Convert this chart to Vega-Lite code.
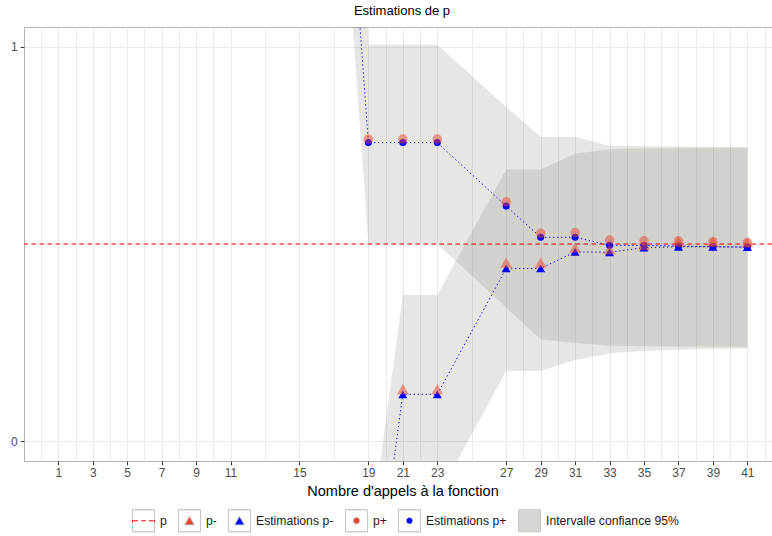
{
  "$schema": "https://vega.github.io/schema/vega-lite/v6.json",
  "width": 748,
  "height": 434,
  "autosize": {"type": "none"},
  "padding": {"left": 24, "top": 27, "right": 0, "bottom": 75},
  "background": "white",
  "title": {"text": "Estimations de p", "font": "Liberation Sans", "fontSize": 13, "fontWeight": "normal", "color": "#000000", "anchor": "middle", "dx": 4, "offset": 9},
  "datasets": {
    "pts": [
      {"x": 15, "y": 3.18, "series": "Estimations p+"},
      {"x": 19, "y": 0.757, "series": "Estimations p+"},
      {"x": 21, "y": 0.757, "series": "Estimations p+"},
      {"x": 23, "y": 0.757, "series": "Estimations p+"},
      {"x": 27, "y": 0.596, "series": "Estimations p+"},
      {"x": 29, "y": 0.517, "series": "Estimations p+"},
      {"x": 31, "y": 0.517, "series": "Estimations p+"},
      {"x": 33, "y": 0.497, "series": "Estimations p+"},
      {"x": 35, "y": 0.496, "series": "Estimations p+"},
      {"x": 37, "y": 0.495, "series": "Estimations p+"},
      {"x": 39, "y": 0.493, "series": "Estimations p+"},
      {"x": 41, "y": 0.492, "series": "Estimations p+"},
      {"x": 19, "y": 0.766, "series": "p+"},
      {"x": 21, "y": 0.766, "series": "p+"},
      {"x": 23, "y": 0.766, "series": "p+"},
      {"x": 27, "y": 0.607, "series": "p+"},
      {"x": 29, "y": 0.527, "series": "p+"},
      {"x": 31, "y": 0.529, "series": "p+"},
      {"x": 33, "y": 0.51, "series": "p+"},
      {"x": 35, "y": 0.508, "series": "p+"},
      {"x": 37, "y": 0.508, "series": "p+"},
      {"x": 39, "y": 0.506, "series": "p+"},
      {"x": 41, "y": 0.504, "series": "p+"},
      {"x": 19, "y": -0.527, "series": "Estimations p-"},
      {"x": 21, "y": 0.119, "series": "Estimations p-"},
      {"x": 23, "y": 0.119, "series": "Estimations p-"},
      {"x": 27, "y": 0.438, "series": "Estimations p-"},
      {"x": 29, "y": 0.438, "series": "Estimations p-"},
      {"x": 31, "y": 0.48, "series": "Estimations p-"},
      {"x": 33, "y": 0.479, "series": "Estimations p-"},
      {"x": 35, "y": 0.491, "series": "Estimations p-"},
      {"x": 37, "y": 0.493, "series": "Estimations p-"},
      {"x": 39, "y": 0.493, "series": "Estimations p-"},
      {"x": 41, "y": 0.492, "series": "Estimations p-"},
      {"x": 19, "y": -0.51, "series": "p-"},
      {"x": 21, "y": 0.132, "series": "p-"},
      {"x": 23, "y": 0.132, "series": "p-"},
      {"x": 27, "y": 0.453, "series": "p-"},
      {"x": 29, "y": 0.453, "series": "p-"},
      {"x": 31, "y": 0.491, "series": "p-"},
      {"x": 33, "y": 0.487, "series": "p-"},
      {"x": 35, "y": 0.497, "series": "p-"},
      {"x": 37, "y": 0.506, "series": "p-"},
      {"x": 39, "y": 0.506, "series": "p-"},
      {"x": 41, "y": 0.504, "series": "p-"}
    ],
    "rib": [
      {"x": 15, "hi": 6.0, "lo": 2.93, "band": "p+"},
      {"x": 19, "hi": 1.005, "lo": 0.5, "band": "p+"},
      {"x": 21, "hi": 1.005, "lo": 0.5, "band": "p+"},
      {"x": 23, "hi": 1.005, "lo": 0.5, "band": "p+"},
      {"x": 27, "hi": 0.848, "lo": 0.339, "band": "p+"},
      {"x": 29, "hi": 0.771, "lo": 0.258, "band": "p+"},
      {"x": 31, "hi": 0.771, "lo": 0.249, "band": "p+"},
      {"x": 33, "hi": 0.749, "lo": 0.242, "band": "p+"},
      {"x": 35, "hi": 0.748, "lo": 0.241, "band": "p+"},
      {"x": 37, "hi": 0.747, "lo": 0.24, "band": "p+"},
      {"x": 39, "hi": 0.746, "lo": 0.24, "band": "p+"},
      {"x": 41, "hi": 0.746, "lo": 0.239, "band": "p+"},
      {"x": 19, "hi": -0.275, "lo": -0.8, "band": "p-"},
      {"x": 21, "hi": 0.371, "lo": -0.3, "band": "p-"},
      {"x": 23, "hi": 0.371, "lo": -0.143, "band": "p-"},
      {"x": 27, "hi": 0.689, "lo": 0.178, "band": "p-"},
      {"x": 29, "hi": 0.689, "lo": 0.178, "band": "p-"},
      {"x": 31, "hi": 0.729, "lo": 0.206, "band": "p-"},
      {"x": 33, "hi": 0.74, "lo": 0.223, "band": "p-"},
      {"x": 35, "hi": 0.742, "lo": 0.229, "band": "p-"},
      {"x": 37, "hi": 0.743, "lo": 0.232, "band": "p-"},
      {"x": 39, "hi": 0.744, "lo": 0.234, "band": "p-"},
      {"x": 41, "hi": 0.744, "lo": 0.235, "band": "p-"}
    ],
    "ref": [{"p": 0.5}],
    "leg": [
      {"item": "p"},
      {"item": "p-"},
      {"item": "Estimations p-"},
      {"item": "p+"},
      {"item": "Estimations p+"},
      {"item": "Intervalle confiance 95%"}
    ]
  },
  "layer": [
    {
      "data": {"name": "rib"},
      "mark": {"type": "area", "clip": true, "color": "#7a766a", "fillOpacity": 0.18, "strokeWidth": 0},
      "encoding": {
        "x": {"field": "x", "type": "quantitative", "scale": {"domain": [-0.99, 42.43], "nice": false, "zero": false},
              "axis": {"orient": "bottom", "values": [0,1,2,3,4,5,6,7,8,9,10,11,13,15,17,19,20,21,22,23,25,27,28,29,30,31,32,33,34,35,36,37,38,39,40,41,42], "labelExpr": "indexof([1,3,5,7,9,11,15,19,21,23,27,29,31,33,35,37,39,41], datum.value) >= 0 ? '' + datum.value : ''", "tickOpacity": {"condition": {"test": "indexof([1,3,5,7,9,11,15,19,21,23,27,29,31,33,35,37,39,41], datum.value) < 0", "value": 0}, "value": 1}, "grid": true, "gridColor": "#ebebeb", "gridWidth": 1, "domain": false, "ticks": true, "tickColor": "#333333", "tickSize": 3.7, "tickWidth": 1, "labelFont": "Liberation Sans", "labelFontSize": 12, "labelColor": "#4d4d4d", "labelPadding": 3, "labelFlush": false, "labelOverlap": false, "title": "Nombre d'appels à la fonction", "titleFont": "Liberation Sans", "titleFontSize": 14.5, "titleFontWeight": "normal", "titleColor": "#000000", "titlePadding": 6, "titleX": 378.5}},
        "y": {"field": "hi", "type": "quantitative", "scale": {"domain": [-0.05, 1.05], "nice": false, "zero": false},
              "axis": {"orient": "left", "values": [0, 0.5, 1], "labelExpr": "datum.value == 0 ? '0' : (datum.value == 1 ? '1' : '')", "title": null, "domain": false, "ticks": true, "tickColor": "#333333", "tickSize": 3.7, "tickWidth": 1, "tickOpacity": {"condition": {"test": "datum.value == 0.5", "value": 0}, "value": 1}, "grid": true, "gridColor": "#ebebeb", "gridWidth": 1, "labelFont": "Liberation Sans", "labelFontSize": 12, "labelColor": "#4d4d4d", "labelPadding": 3}},
        "y2": {"field": "lo"},
        "detail": {"field": "band", "type": "nominal"}
      }
    },
    {
      "data": {"name": "ref"},
      "mark": {"type": "rule", "color": "#ff0000", "strokeDash": [4.5, 3.5], "strokeWidth": 1},
      "encoding": {
        "y": {"field": "p", "type": "quantitative",
              "axis": {"orient": "left", "values": [0, 0.5, 1], "labelExpr": "datum.value == 0 ? '0' : (datum.value == 1 ? '1' : '')", "title": null, "domain": false, "ticks": true, "tickColor": "#333333", "tickSize": 3.7, "tickWidth": 1, "tickOpacity": {"condition": {"test": "datum.value == 0.5", "value": 0}, "value": 1}, "grid": true, "gridColor": "#ebebeb", "gridWidth": 1, "labelFont": "Liberation Sans", "labelFontSize": 12, "labelColor": "#4d4d4d", "labelPadding": 3}}
      }
    },
    {
      "data": {"name": "pts"},
      "transform": [{"filter": "indexof(datum.series, 'Estimations') == 0"}],
      "mark": {"type": "line", "clip": true, "color": "#0000ff", "strokeWidth": 1, "strokeDash": [1.3, 2.7]},
      "encoding": {
        "x": {"field": "x", "type": "quantitative",
              "axis": {"orient": "bottom", "values": [0,1,2,3,4,5,6,7,8,9,10,11,13,15,17,19,20,21,22,23,25,27,28,29,30,31,32,33,34,35,36,37,38,39,40,41,42], "labelExpr": "indexof([1,3,5,7,9,11,15,19,21,23,27,29,31,33,35,37,39,41], datum.value) >= 0 ? '' + datum.value : ''", "tickOpacity": {"condition": {"test": "indexof([1,3,5,7,9,11,15,19,21,23,27,29,31,33,35,37,39,41], datum.value) < 0", "value": 0}, "value": 1}, "grid": true, "gridColor": "#ebebeb", "gridWidth": 1, "domain": false, "ticks": true, "tickColor": "#333333", "tickSize": 3.7, "tickWidth": 1, "labelFont": "Liberation Sans", "labelFontSize": 12, "labelColor": "#4d4d4d", "labelPadding": 3, "labelFlush": false, "labelOverlap": false, "title": "Nombre d'appels à la fonction", "titleFont": "Liberation Sans", "titleFontSize": 14.5, "titleFontWeight": "normal", "titleColor": "#000000", "titlePadding": 6, "titleX": 378.5}},
        "y": {"field": "y", "type": "quantitative",
              "axis": {"orient": "left", "values": [0, 0.5, 1], "labelExpr": "datum.value == 0 ? '0' : (datum.value == 1 ? '1' : '')", "title": null, "domain": false, "ticks": true, "tickColor": "#333333", "tickSize": 3.7, "tickWidth": 1, "tickOpacity": {"condition": {"test": "datum.value == 0.5", "value": 0}, "value": 1}, "grid": true, "gridColor": "#ebebeb", "gridWidth": 1, "labelFont": "Liberation Sans", "labelFontSize": 12, "labelColor": "#4d4d4d", "labelPadding": 3}},
        "detail": {"field": "series", "type": "nominal"}
      }
    },
    {
      "data": {"name": "pts"},
      "transform": [{"filter": "datum.series == 'Estimations p-'"}],
      "mark": {"type": "point", "clip": true, "filled": true, "shape": "triangle-up", "size": 81, "color": "#0000ff", "opacity": 1},
      "encoding": {
        "x": {"field": "x", "type": "quantitative",
              "axis": {"orient": "bottom", "values": [0,1,2,3,4,5,6,7,8,9,10,11,13,15,17,19,20,21,22,23,25,27,28,29,30,31,32,33,34,35,36,37,38,39,40,41,42], "labelExpr": "indexof([1,3,5,7,9,11,15,19,21,23,27,29,31,33,35,37,39,41], datum.value) >= 0 ? '' + datum.value : ''", "tickOpacity": {"condition": {"test": "indexof([1,3,5,7,9,11,15,19,21,23,27,29,31,33,35,37,39,41], datum.value) < 0", "value": 0}, "value": 1}, "grid": true, "gridColor": "#ebebeb", "gridWidth": 1, "domain": false, "ticks": true, "tickColor": "#333333", "tickSize": 3.7, "tickWidth": 1, "labelFont": "Liberation Sans", "labelFontSize": 12, "labelColor": "#4d4d4d", "labelPadding": 3, "labelFlush": false, "labelOverlap": false, "title": "Nombre d'appels à la fonction", "titleFont": "Liberation Sans", "titleFontSize": 14.5, "titleFontWeight": "normal", "titleColor": "#000000", "titlePadding": 6, "titleX": 378.5}},
        "y": {"field": "y", "type": "quantitative",
              "axis": {"orient": "left", "values": [0, 0.5, 1], "labelExpr": "datum.value == 0 ? '0' : (datum.value == 1 ? '1' : '')", "title": null, "domain": false, "ticks": true, "tickColor": "#333333", "tickSize": 3.7, "tickWidth": 1, "tickOpacity": {"condition": {"test": "datum.value == 0.5", "value": 0}, "value": 1}, "grid": true, "gridColor": "#ebebeb", "gridWidth": 1, "labelFont": "Liberation Sans", "labelFontSize": 12, "labelColor": "#4d4d4d", "labelPadding": 3}}
      }
    },
    {
      "data": {"name": "pts"},
      "transform": [{"filter": "datum.series == 'Estimations p+'"}],
      "mark": {"type": "point", "clip": true, "filled": true, "shape": "circle", "size": 50, "color": "#0000ff", "opacity": 1},
      "encoding": {
        "x": {"field": "x", "type": "quantitative",
              "axis": {"orient": "bottom", "values": [0,1,2,3,4,5,6,7,8,9,10,11,13,15,17,19,20,21,22,23,25,27,28,29,30,31,32,33,34,35,36,37,38,39,40,41,42], "labelExpr": "indexof([1,3,5,7,9,11,15,19,21,23,27,29,31,33,35,37,39,41], datum.value) >= 0 ? '' + datum.value : ''", "tickOpacity": {"condition": {"test": "indexof([1,3,5,7,9,11,15,19,21,23,27,29,31,33,35,37,39,41], datum.value) < 0", "value": 0}, "value": 1}, "grid": true, "gridColor": "#ebebeb", "gridWidth": 1, "domain": false, "ticks": true, "tickColor": "#333333", "tickSize": 3.7, "tickWidth": 1, "labelFont": "Liberation Sans", "labelFontSize": 12, "labelColor": "#4d4d4d", "labelPadding": 3, "labelFlush": false, "labelOverlap": false, "title": "Nombre d'appels à la fonction", "titleFont": "Liberation Sans", "titleFontSize": 14.5, "titleFontWeight": "normal", "titleColor": "#000000", "titlePadding": 6, "titleX": 378.5}},
        "y": {"field": "y", "type": "quantitative",
              "axis": {"orient": "left", "values": [0, 0.5, 1], "labelExpr": "datum.value == 0 ? '0' : (datum.value == 1 ? '1' : '')", "title": null, "domain": false, "ticks": true, "tickColor": "#333333", "tickSize": 3.7, "tickWidth": 1, "tickOpacity": {"condition": {"test": "datum.value == 0.5", "value": 0}, "value": 1}, "grid": true, "gridColor": "#ebebeb", "gridWidth": 1, "labelFont": "Liberation Sans", "labelFontSize": 12, "labelColor": "#4d4d4d", "labelPadding": 3}}
      }
    },
    {
      "data": {"name": "pts"},
      "transform": [{"filter": "datum.series == 'p-'"}],
      "mark": {"type": "point", "clip": true, "filled": true, "shape": "triangle-up", "size": 140, "color": "#e8452c", "opacity": 0.5},
      "encoding": {
        "x": {"field": "x", "type": "quantitative",
              "axis": {"orient": "bottom", "values": [0,1,2,3,4,5,6,7,8,9,10,11,13,15,17,19,20,21,22,23,25,27,28,29,30,31,32,33,34,35,36,37,38,39,40,41,42], "labelExpr": "indexof([1,3,5,7,9,11,15,19,21,23,27,29,31,33,35,37,39,41], datum.value) >= 0 ? '' + datum.value : ''", "tickOpacity": {"condition": {"test": "indexof([1,3,5,7,9,11,15,19,21,23,27,29,31,33,35,37,39,41], datum.value) < 0", "value": 0}, "value": 1}, "grid": true, "gridColor": "#ebebeb", "gridWidth": 1, "domain": false, "ticks": true, "tickColor": "#333333", "tickSize": 3.7, "tickWidth": 1, "labelFont": "Liberation Sans", "labelFontSize": 12, "labelColor": "#4d4d4d", "labelPadding": 3, "labelFlush": false, "labelOverlap": false, "title": "Nombre d'appels à la fonction", "titleFont": "Liberation Sans", "titleFontSize": 14.5, "titleFontWeight": "normal", "titleColor": "#000000", "titlePadding": 6, "titleX": 378.5}},
        "y": {"field": "y", "type": "quantitative",
              "axis": {"orient": "left", "values": [0, 0.5, 1], "labelExpr": "datum.value == 0 ? '0' : (datum.value == 1 ? '1' : '')", "title": null, "domain": false, "ticks": true, "tickColor": "#333333", "tickSize": 3.7, "tickWidth": 1, "tickOpacity": {"condition": {"test": "datum.value == 0.5", "value": 0}, "value": 1}, "grid": true, "gridColor": "#ebebeb", "gridWidth": 1, "labelFont": "Liberation Sans", "labelFontSize": 12, "labelColor": "#4d4d4d", "labelPadding": 3}}
      }
    },
    {
      "data": {"name": "pts"},
      "transform": [{"filter": "datum.series == 'p+'"}],
      "mark": {"type": "point", "clip": true, "filled": true, "shape": "circle", "size": 90, "color": "#e8452c", "opacity": 0.5},
      "encoding": {
        "x": {"field": "x", "type": "quantitative",
              "axis": {"orient": "bottom", "values": [0,1,2,3,4,5,6,7,8,9,10,11,13,15,17,19,20,21,22,23,25,27,28,29,30,31,32,33,34,35,36,37,38,39,40,41,42], "labelExpr": "indexof([1,3,5,7,9,11,15,19,21,23,27,29,31,33,35,37,39,41], datum.value) >= 0 ? '' + datum.value : ''", "tickOpacity": {"condition": {"test": "indexof([1,3,5,7,9,11,15,19,21,23,27,29,31,33,35,37,39,41], datum.value) < 0", "value": 0}, "value": 1}, "grid": true, "gridColor": "#ebebeb", "gridWidth": 1, "domain": false, "ticks": true, "tickColor": "#333333", "tickSize": 3.7, "tickWidth": 1, "labelFont": "Liberation Sans", "labelFontSize": 12, "labelColor": "#4d4d4d", "labelPadding": 3, "labelFlush": false, "labelOverlap": false, "title": "Nombre d'appels à la fonction", "titleFont": "Liberation Sans", "titleFontSize": 14.5, "titleFontWeight": "normal", "titleColor": "#000000", "titlePadding": 6, "titleX": 378.5}},
        "y": {"field": "y", "type": "quantitative",
              "axis": {"orient": "left", "values": [0, 0.5, 1], "labelExpr": "datum.value == 0 ? '0' : (datum.value == 1 ? '1' : '')", "title": null, "domain": false, "ticks": true, "tickColor": "#333333", "tickSize": 3.7, "tickWidth": 1, "tickOpacity": {"condition": {"test": "datum.value == 0.5", "value": 0}, "value": 1}, "grid": true, "gridColor": "#ebebeb", "gridWidth": 1, "labelFont": "Liberation Sans", "labelFontSize": 12, "labelColor": "#4d4d4d", "labelPadding": 3}}
      }
    },
    {
      "data": {"name": "leg"},
      "mark": {"type": "point", "opacity": 0, "filled": true},
      "encoding": {
        "color": {"field": "item", "type": "nominal",
                  "scale": {"domain": ["p", "p-", "Estimations p-", "p+", "Estimations p+", "Intervalle confiance 95%"],
                            "range": ["#ff0000", "#e8452c", "#0000ff", "#e8452c", "#0000ff", "#d6d5d1"]},
                  "legend": {"orient": "none", "legendX": 108, "legendY": 482, "direction": "horizontal", "columns": 6,
                             "title": null, "padding": 0, "symbolSize": 484, "symbolStrokeWidth": 1, "symbolOpacity": 1,
                             "symbolType": {"expr": "datum.value == 'p' ? 'M-1,-1H1V1H-1ZM-1,-1V1H1V-1ZM-0.91,0H-0.49M-0.21,0H0.21M0.49,0H0.91' : ((datum.value == 'p-' || datum.value == 'Estimations p-') ? 'M-1,-1H1V1H-1ZM-1,-1V1H1V-1ZM0,-0.4L0.45,0.38L-0.45,0.38Z' : (datum.value == 'Intervalle confiance 95%' ? 'M-1,-1H1V1H-1Z' : 'M-1,-1H1V1H-1ZM-1,-1V1H1V-1ZM-0.3,0A0.3,0.3,0,1,1,0.3,0A0.3,0.3,0,1,1,-0.3,0Z'))"},
                             "symbolStrokeColor": {"expr": "datum.value == 'p' ? {gradient: 'linear', x1: 0, y1: 0, x2: 0, y2: 1, stops: [{offset: 0, color: '#c8c8c8'}, {offset: 0.46, color: '#c8c8c8'}, {offset: 0.46, color: '#ff0000'}, {offset: 0.54, color: '#ff0000'}, {offset: 0.54, color: '#c8c8c8'}, {offset: 1, color: '#c8c8c8'}]} : '#c8c8c8'"},
                             "labelFont": "Liberation Sans", "labelFontSize": 12.2, "labelColor": "#1a1a1a",
                             "labelOffset": 5, "columnPadding": 9, "labelLimit": 300}}
      }
    }
  ],
  "config": {
    "view": {"stroke": "#b3b3b3", "strokeWidth": 1, "strokeDash": [748, 434, 1182, 0]},
    "font": "Liberation Sans"
  }
}
